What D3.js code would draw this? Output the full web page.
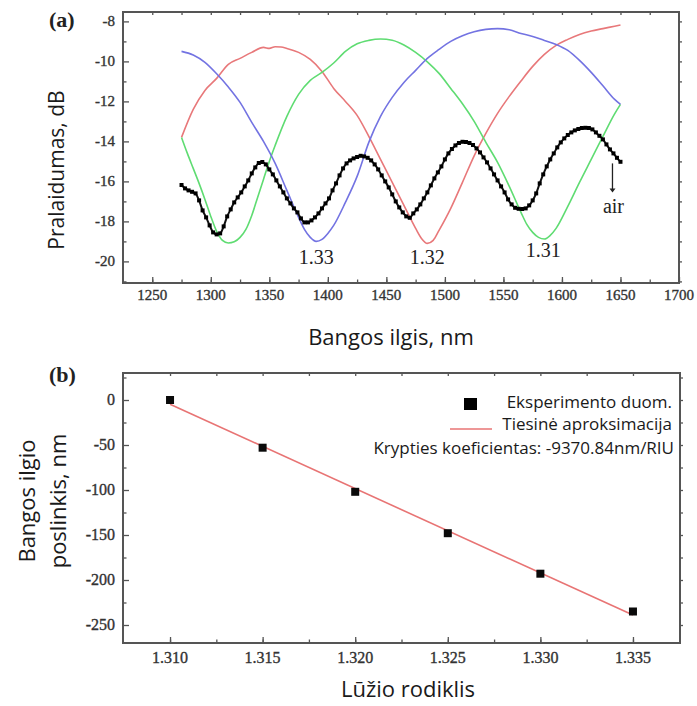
<!DOCTYPE html>
<html>
<head>
<meta charset="utf-8">
<script src="https://cdn.jsdelivr.net/npm/d3@7"></script>
<style>
  html, body { margin: 0; padding: 0; background: #fff; }
  svg { display: block; }
  .tick-label { font-family: 'Liberation Serif', 'Times New Roman', serif; fill: #333; stroke: #333; stroke-width: 0.35px; }
  .serif { font-family: 'Liberation Serif', 'Times New Roman', serif; }
  .sans { font-family: 'Open Sans', 'Noto Sans', sans-serif; }
</style>
</head>
<body>
<svg id="chart" width="697" height="706"></svg>
<script>
// ---------- Panel (a): transmission spectra ----------
const wl131 = [1275,1280,1285,1290,1295,1300,1305,1310,1315,1320,1325,1330,1335,1340,1345,1350,1355,1365,1375,1385,1395,1405,1415,1425,1435,1445,1455,1465,1475,1485,1495,1505,1515,1525,1535,1545,1555,1565,1570,1575,1580,1585,1590,1595,1605,1615,1625,1635,1645,1650];
const t131  = [-13.8,-14.6,-15.35,-16.1,-16.9,-17.75,-18.5,-18.95,-19.08,-19.02,-18.8,-18.4,-17.7,-16.8,-15.9,-15.0,-14.2,-12.75,-11.65,-10.95,-10.55,-10.08,-9.5,-9.12,-8.95,-8.88,-8.94,-9.18,-9.55,-10.02,-10.6,-11.35,-12.12,-13.0,-14.05,-15.05,-16.25,-17.55,-18.15,-18.55,-18.8,-18.88,-18.7,-18.35,-17.25,-16.05,-14.9,-13.75,-12.62,-12.15];

const wl132 = [1275,1285,1295,1305,1315,1325,1335,1345,1350,1355,1360,1365,1375,1385,1395,1405,1415,1425,1435,1445,1455,1465,1475,1480,1485,1490,1495,1505,1515,1525,1535,1545,1555,1565,1575,1585,1595,1605,1615,1625,1635,1645,1650];
const t132  = [-13.8,-12.4,-11.45,-10.85,-10.15,-9.85,-9.55,-9.3,-9.35,-9.27,-9.28,-9.35,-9.55,-9.9,-10.5,-11.35,-12.0,-12.7,-13.75,-14.9,-16.05,-17.2,-18.35,-18.85,-19.1,-18.95,-18.45,-17.35,-16.05,-14.72,-13.6,-12.6,-11.75,-10.98,-10.25,-9.65,-9.2,-8.9,-8.65,-8.48,-8.36,-8.24,-8.18];

const wl133 = [1275,1285,1295,1305,1315,1325,1335,1345,1355,1365,1375,1380,1385,1390,1395,1400,1405,1415,1425,1435,1445,1455,1465,1475,1485,1495,1505,1515,1525,1535,1545,1555,1565,1575,1585,1595,1605,1615,1625,1635,1645,1650];
const t133  = [-9.5,-9.68,-10.05,-10.62,-11.28,-12.05,-13.05,-14.0,-15.1,-16.45,-17.8,-18.4,-18.8,-19.0,-18.9,-18.6,-18.2,-17.05,-15.75,-14.05,-12.75,-11.8,-11.05,-10.45,-9.85,-9.4,-9.0,-8.72,-8.52,-8.4,-8.36,-8.42,-8.6,-8.75,-8.95,-9.15,-9.45,-9.95,-10.55,-11.22,-11.9,-12.15];

// air spectrum, sampled every 3 nm from 1275 nm to 1650 nm
const wlAir = d3.range(1275, 1651, 3);
const tAir = [
  -16.18,-16.35,-16.45,-16.52,-16.6,-16.95,-17.45,-17.8,-18.2,-18.55,
  -18.65,-18.6,-18.25,-17.75,-17.4,-17.05,-16.8,-16.55,-16.25,-15.95,
  -15.6,-15.3,-15.08,-15.03,-15.15,-15.4,-15.65,-15.95,-16.25,-16.55,
  -16.85,-17.1,-17.35,-17.55,-17.85,-18.05,-18.05,-17.95,-17.8,-17.6,
  -17.35,-17.1,-16.85,-16.45,-16.1,-15.7,-15.35,-15.1,-14.95,-14.85,
  -14.78,-14.72,-14.75,-14.82,-14.95,-15.15,-15.4,-15.7,-16.0,-16.3,
  -16.65,-17.0,-17.3,-17.55,-17.75,-17.82,-17.6,-17.4,-17.15,-16.85,
  -16.55,-16.2,-15.85,-15.55,-15.25,-14.9,-14.6,-14.38,-14.2,-14.08,
  -14.02,-14.03,-14.08,-14.18,-14.35,-14.55,-14.8,-15.05,-15.35,-15.65,
  -15.95,-16.25,-16.55,-16.9,-17.15,-17.32,-17.37,-17.38,-17.35,-17.2,
  -16.95,-16.6,-16.1,-15.65,-15.25,-14.9,-14.6,-14.3,-14.05,-13.85,
  -13.68,-13.55,-13.45,-13.38,-13.33,-13.32,-13.33,-13.4,-13.55,-13.72,
  -13.9,-14.15,-14.4,-14.6,-14.82,-15.02
];

const xTicksA = [1250,1300,1350,1400,1450,1500,1550,1600,1650,1700];
const xMinorA = [1250,1275,1300,1325,1350,1375,1400,1425,1450,1475,1500,1525,1550,1575,1600,1625,1650,1675];
const yTicksA = [-20,-18,-16,-14,-12,-10,-8];
const yMinorA = [-21,-19,-17,-15,-13,-11,-9];
const yAllA   = [-21,-20,-19,-18,-17,-16,-15,-14,-13,-12,-11,-10,-9,-8];

// minima labels: [refractive index label, wavelength, transmission]
const dipLabels = [["1.33", 1390, -20.15], ["1.32", 1485, -20.15], ["1.31", 1584, -19.8]];

// ---------- Panel (b): wavelength shift vs refractive index ----------
const riu   = [1.310, 1.315, 1.320, 1.325, 1.330, 1.335];
const shift = [0, -53, -102, -148, -193, -235];
const slope = -9370.84; // nm/RIU
const xTicksB = [1.310, 1.315, 1.320, 1.325, 1.330, 1.335];
const xMinorB = [1.3100, 1.3125, 1.3150, 1.3175, 1.3200, 1.3225, 1.3250, 1.3275, 1.3300, 1.3325, 1.3350];
const yTicksB = [0, -50, -100, -150, -200, -250];
const yMinorB = [25, -25, -75, -125, -175, -225];
const yAllB   = [25, 0, -25, -50, -75, -100, -125, -150, -175, -200, -225, -250];

// ---------- drawing ----------
const svg = d3.select("#chart");
svg.append("rect").attr("width", 697).attr("height", 706).attr("fill", "#fff");

const frameColor = "#555";
const colors = { c131: "#5fdc72", c132: "#e8787a", c133: "#7373e2" };

const A = { left: 123, right: 679, top: 12, bottom: 283 };
const B = { left: 123, right: 680, top: 373, bottom: 643 };

const xA = d3.scaleLinear().domain([1225, 1700]).range([A.left, A.right]);
const yA = d3.scaleLinear().domain([-21.08, -7.53]).range([A.bottom, A.top]);
const xB = d3.scaleLinear().domain([1.30746, 1.33754]).range([B.left, B.right]);
const yB = d3.scaleLinear().domain([-270, 30]).range([B.bottom, B.top]);

// tick marks only; the numbers are set separately in serif type
function tickMarks(g) {
  g.select(".domain").remove();
  g.selectAll("text").remove();
  g.selectAll("line").attr("stroke", frameColor).attr("stroke-width", 1.3);
}

function drawFrame(P, xs, ys, opts) {
  const g = svg.append("g");
  g.append("g").attr("transform", `translate(0,${P.bottom})`)
    .call(d3.axisBottom(xs).tickValues(opts.xMinor).tickSize(-3.5)).call(tickMarks);
  g.append("g").attr("transform", `translate(${P.left},0)`)
    .call(d3.axisLeft(ys).tickValues(opts.yMinor).tickSize(-3.5)).call(tickMarks);
  g.append("g").attr("transform", `translate(0,${P.top})`)
    .call(d3.axisTop(xs).tickValues(opts.xMinor).tickSize(-3)).call(tickMarks);
  g.append("g").attr("transform", `translate(${P.right},0)`)
    .call(d3.axisRight(ys).tickValues(opts.yAll).tickSize(3)).call(tickMarks);
  g.append("g").attr("transform", `translate(0,${P.bottom})`)
    .call(d3.axisBottom(xs).tickValues(opts.xMajor).tickSize(-6)).call(tickMarks);
  g.append("g").attr("transform", `translate(${P.left},0)`)
    .call(d3.axisLeft(ys).tickValues(opts.yMajor).tickSize(-6)).call(tickMarks);

  g.selectAll("text.xl").data(opts.xMajor).enter().append("text")
    .attr("class", "tick-label")
    .attr("x", d => xs(d)).attr("y", P.bottom + opts.xBase)
    .attr("text-anchor", "middle")
    .style("font-size", opts.fontSize + "px")
    .text(opts.xFmt);
  g.selectAll("text.yl").data(opts.yMajor).enter().append("text")
    .attr("class", "tick-label")
    .attr("x", P.left - 8).attr("y", d => ys(d) + opts.fontSize * 0.33)
    .attr("text-anchor", "end")
    .style("font-size", opts.fontSize + "px")
    .text(opts.yFmt);

  g.append("rect")
    .attr("x", P.left).attr("y", P.top)
    .attr("width", P.right - P.left).attr("height", P.bottom - P.top)
    .attr("fill", "none").attr("stroke", frameColor).attr("stroke-width", 2);
}

// ----- panel (a) -----
drawFrame(A, xA, yA, {
  xMinor: xMinorA, yMinor: yMinorA, yAll: yAllA,
  xMajor: xTicksA, yMajor: yTicksA,
  xFmt: d => String(d), yFmt: d => String(d), xBase: 17, fontSize: 15
});

const lineA = (wl, vals) => d3.line()
  .x((d, i) => xA(wl[i])).y(d => yA(d))
  .curve(d3.curveMonotoneX)(vals);

const plotA = svg.append("g");
[[wl132, t132, colors.c132], [wl131, t131, colors.c131], [wl133, t133, colors.c133]].forEach(([wl, vals, c]) => {
  plotA.append("path").attr("d", lineA(wl, vals))
    .attr("fill", "none").attr("stroke", c).attr("stroke-width", 1.6)
    .attr("stroke-linejoin", "round");
});

plotA.append("path").attr("d", lineA(wlAir, tAir))
  .attr("fill", "none").attr("stroke", "#111").attr("stroke-width", 2);
plotA.selectAll("rect.air").data(tAir).enter().append("rect")
  .attr("class", "air")
  .attr("x", (d, i) => xA(wlAir[i]) - 2).attr("y", d => yA(d) - 2)
  .attr("width", 4).attr("height", 4).attr("fill", "#000");

// labels under the minima
plotA.selectAll("text.dip").data(dipLabels).enter().append("text")
  .attr("class", "serif")
  .attr("x", d => xA(d[1])).attr("y", d => yA(d[2]))
  .attr("text-anchor", "middle")
  .style("font-size", "20px").attr("fill", "#222")
  .text(d => d[0]);

// "air" marker arrow
const airWl = wlAir[wlAir.length - 1];
const ax = xA(airWl) - 8;
plotA.append("line")
  .attr("x1", ax).attr("x2", ax)
  .attr("y1", yA(-15.1)).attr("y2", yA(-16.45))
  .attr("stroke", "#222").attr("stroke-width", 1.3);
plotA.append("path")
  .attr("d", `M${ax - 3},${yA(-16.35)} L${ax + 3},${yA(-16.35)} L${ax},${yA(-16.55)} Z`)
  .attr("fill", "#222");
plotA.append("text")
  .attr("class", "serif")
  .attr("x", ax + 1).attr("y", yA(-17.58))
  .attr("text-anchor", "middle")
  .style("font-size", "20px").attr("fill", "#222")
  .text("air");

svg.append("text").attr("class", "serif").attr("x", 49).attr("y", 27)
  .style("font-weight", "bold").style("font-size", "22px").attr("fill", "#222")
  .text("(a)");

svg.append("text").attr("class", "sans")
  .attr("transform", "translate(64,170) rotate(-90)")
  .attr("text-anchor", "middle")
  .style("font-size", "21px").attr("fill", "#1a1a1a")
  .text("Pralaidumas, dB");

svg.append("text").attr("class", "sans")
  .attr("x", 391).attr("y", 345)
  .attr("text-anchor", "middle")
  .style("font-size", "22px").attr("fill", "#1a1a1a")
  .text("Bangos ilgis, nm");

// ----- panel (b) -----
drawFrame(B, xB, yB, {
  xMinor: xMinorB, yMinor: yMinorB, yAll: yAllB,
  xMajor: xTicksB, yMajor: yTicksB,
  xFmt: d => d.toFixed(3), yFmt: d => String(d), xBase: 20, fontSize: 16
});

// least-squares intercept for the stated slope
const intercept = d3.mean(shift) - slope * d3.mean(riu);
const fitX = [riu[0], riu[riu.length - 1]];
const plotB = svg.append("g");
plotB.append("path")
  .attr("d", d3.line().x(d => xB(d)).y(d => yB(intercept + slope * d))(fitX))
  .attr("fill", "none").attr("stroke", "#e87474").attr("stroke-width", 1.6);

plotB.selectAll("rect.pt").data(riu).enter().append("rect")
  .attr("class", "pt")
  .attr("x", d => xB(d) - 4).attr("y", (d, i) => yB(shift[i]) - 4)
  .attr("width", 8).attr("height", 8).attr("fill", "#0a0a0a");

// legend
const leg = svg.append("g").attr("class", "sans").style("font-size", "17px").attr("fill", "#1a1a1a");
leg.append("rect").attr("x", 464).attr("y", 398).attr("width", 13).attr("height", 12).attr("fill", "#000");
leg.append("text").attr("x", 672).attr("y", 408).attr("text-anchor", "end").text("Eksperimento duom.");
leg.append("line").attr("x1", 450).attr("x2", 492).attr("y1", 429).attr("y2", 429)
  .attr("stroke", "#e87474").attr("stroke-width", 1.6);
leg.append("text").attr("x", 672).attr("y", 430).attr("text-anchor", "end").text("Tiesinė aproksimacija");
leg.append("text").attr("x", 674).attr("y", 454).attr("text-anchor", "end")
  .text(`Krypties koeficientas: ${slope}nm/RIU`);

svg.append("text").attr("class", "serif").attr("x", 49).attr("y", 382)
  .style("font-weight", "bold").style("font-size", "22px").attr("fill", "#222")
  .text("(b)");

const yTitleB = svg.append("text").attr("class", "sans")
  .attr("transform", `translate(0,${(B.top + B.bottom) / 2 - 7}) rotate(-90)`)
  .attr("text-anchor", "middle")
  .style("font-size", "22px").attr("fill", "#1a1a1a");
yTitleB.append("tspan").attr("x", 0).attr("y", 35).text("Bangos ilgio");
yTitleB.append("tspan").attr("x", 0).attr("y", 66).text("poslinkis, nm");

svg.append("text").attr("class", "sans")
  .attr("x", 408).attr("y", 697)
  .attr("text-anchor", "middle")
  .style("font-size", "22px").attr("fill", "#1a1a1a")
  .text("Lūžio rodiklis");
</script>
</body>
</html>
